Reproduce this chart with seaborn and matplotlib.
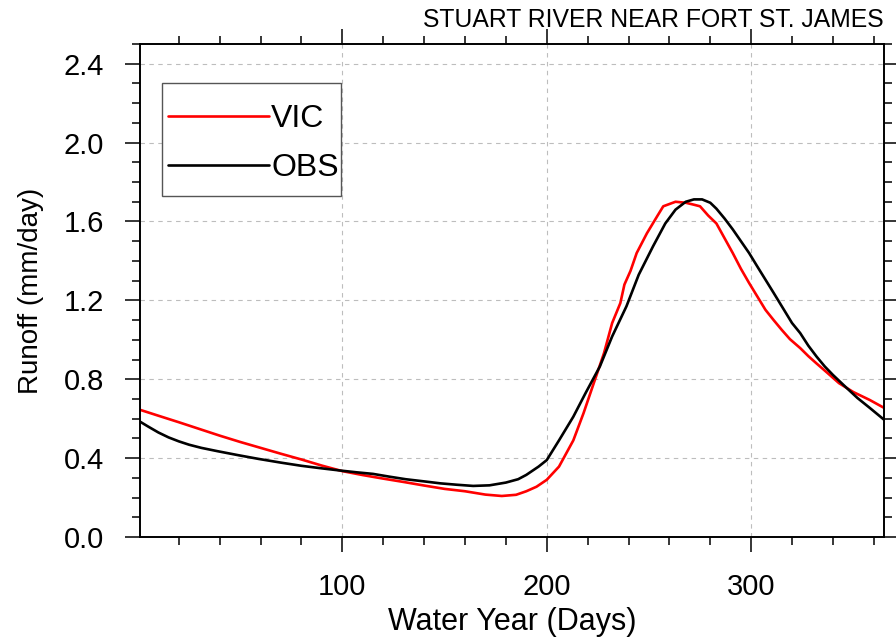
import matplotlib
matplotlib.use("Agg")
import matplotlib.pyplot as plt
from matplotlib.ticker import MultipleLocator, FormatStrFormatter
from matplotlib.patches import Rectangle
import seaborn as sns
import pandas as pd

vic_days = [1, 10, 20, 30, 40, 50, 60, 70, 80, 90, 100, 110, 120, 130, 140, 150, 160, 170,
            178, 185, 190, 195, 200, 206, 213, 218, 223, 228, 232, 236, 238, 241, 244, 249,
            254, 257, 263, 268, 272, 275, 279, 283, 287, 291, 295, 299, 303, 307, 311, 315,
            319, 324, 328, 332, 337, 343, 350, 358, 365]
vic_vals = [0.645, 0.615, 0.582, 0.548, 0.514, 0.482, 0.452, 0.422, 0.393, 0.362, 0.334,
            0.314, 0.296, 0.279, 0.261, 0.244, 0.232, 0.215, 0.208, 0.214, 0.232, 0.255,
            0.290, 0.357, 0.490, 0.628, 0.780, 0.932, 1.085, 1.186, 1.280, 1.350, 1.440,
            1.540, 1.626, 1.677, 1.700, 1.695, 1.685, 1.677, 1.630, 1.590, 1.515, 1.440,
            1.360, 1.288, 1.220, 1.152, 1.100, 1.050, 1.003, 0.958, 0.917, 0.880, 0.835,
            0.780, 0.735, 0.695, 0.655]

obs_days = [1, 5, 10, 15, 20, 25, 31, 39, 49, 59, 70, 80, 90, 99, 107, 115, 123, 131, 140,
            148, 156, 164, 172, 180, 186, 190, 196, 200, 206, 213, 219, 226, 232, 239, 245,
            252, 258, 263, 268, 272, 276, 280, 283, 287, 291, 295, 299, 303, 307, 311, 315,
            320, 324, 328, 332, 336, 340, 346, 352, 358, 365]
obs_vals = [0.585, 0.560, 0.530, 0.505, 0.485, 0.468, 0.452, 0.435, 0.415, 0.396, 0.377,
            0.361, 0.348, 0.337, 0.328, 0.320, 0.306, 0.293, 0.282, 0.272, 0.265, 0.259,
            0.262, 0.276, 0.293, 0.315, 0.357, 0.390, 0.490, 0.610, 0.730, 0.865, 1.017,
            1.170, 1.330, 1.474, 1.590, 1.660, 1.700, 1.712, 1.712, 1.695, 1.665, 1.615,
            1.560, 1.500, 1.440, 1.372, 1.305, 1.238, 1.170, 1.085, 1.034, 0.970, 0.915,
            0.865, 0.822, 0.763, 0.705, 0.655, 0.595]

series_names = ["VIC", "OBS"]
series_colors = ["#ff0000", "#000000"]
title_text = "STUART RIVER NEAR FORT ST. JAMES"
x_label = "Water Year (Days)"
y_label = "Runoff (mm/day)"

sns.set_style("white")
plt.rcParams["font.family"] = ["Liberation Sans", "DejaVu Sans"]
plt.rcParams["text.color"] = "black"
plt.rcParams["axes.labelcolor"] = "black"
plt.rcParams["xtick.color"] = "black"
plt.rcParams["ytick.color"] = "black"

df = pd.concat([
    pd.DataFrame({"day": vic_days, "runoff": vic_vals, "series": series_names[0]}),
    pd.DataFrame({"day": obs_days, "runoff": obs_vals, "series": series_names[1]}),
])

fig = plt.figure(figsize=(8.96, 6.41), dpi=100)
ax = fig.add_axes([140 / 896, 1 - 537 / 641, (884 - 140) / 896, (537 - 44) / 641])

sns.lineplot(data=df, x="day", y="runoff", hue="series", hue_order=series_names,
             palette=dict(zip(series_names, series_colors)), linewidth=1.9,
             ax=ax, legend=False, estimator=None, sort=True)

ax.set_xlim(1, 365)
ax.set_ylim(0, 2.5)
ax.xaxis.set_major_locator(MultipleLocator(100))
ax.xaxis.set_minor_locator(MultipleLocator(20))
ax.yaxis.set_major_locator(MultipleLocator(0.4))
ax.yaxis.set_minor_locator(MultipleLocator(0.1))
ax.yaxis.set_major_formatter(FormatStrFormatter("%.1f"))

ax.grid(True, which="major", color="#bdbdbd", linestyle=(0, (4, 4)), linewidth=0.8)
for s in ax.spines.values():
    s.set_visible(True)
    s.set_linewidth(1.4)
    s.set_color("black")

ax.tick_params(which="both", direction="out", top=True, right=True, bottom=True, left=True,
               color="black", width=1.1)
ax.tick_params(which="major", length=11, labelsize=21, pad=15)
ax.tick_params(which="minor", length=5.5)

ax.set_xlabel(x_label, fontsize=22, labelpad=4)
ax.set_ylabel(y_label, fontsize=20, labelpad=14)

fig.text(884 / 896, 1 - 27 / 641, title_text, ha="right", va="baseline", fontsize=17.8)

# legend box
box = Rectangle((162 / 896, 1 - 196 / 641), (341 - 162) / 896, (196 - 83) / 641,
                transform=fig.transFigure, fill=True, facecolor="white",
                edgecolor="#555555", linewidth=1.0, zorder=5, clip_on=False)
ax.add_patch(box)
handles = [plt.Line2D([], [], color=c, linewidth=1.9) for c in series_colors]
leg = ax.legend(handles, series_names, loc="upper left",
                bbox_to_anchor=(168 / 896, 1 - 104 / 641), bbox_transform=fig.transFigure,
                borderaxespad=0, borderpad=0, fontsize=23, handlelength=3.15,
                handletextpad=0.08, labelspacing=0.61, frameon=False)
leg.set_zorder(6)

fig.savefig("out.png", dpi=100)
